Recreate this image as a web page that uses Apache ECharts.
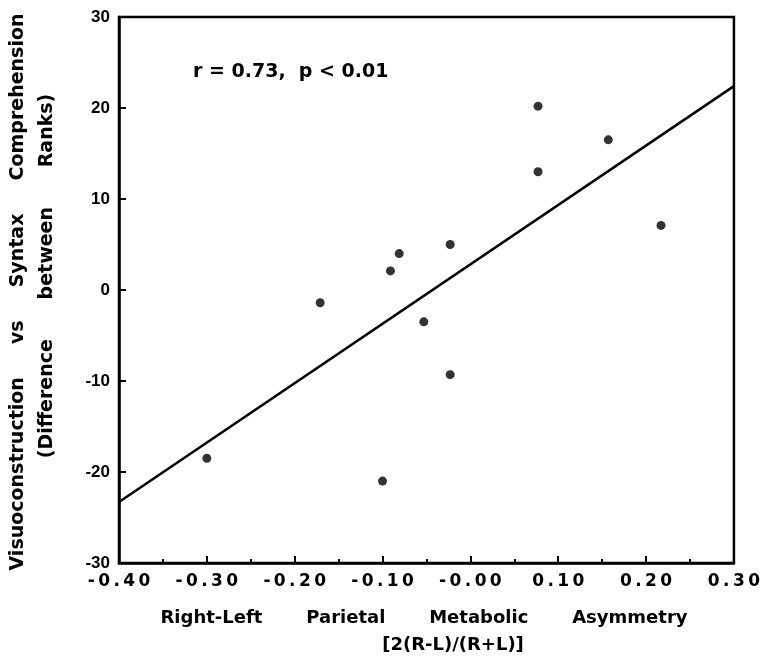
<!DOCTYPE html>
<html>
<head>
<meta charset="utf-8">
<script src="https://cdn.jsdelivr.net/npm/echarts@6/dist/echarts.min.js"></script>
<style>
html,body{margin:0;padding:0;background:#fff;}
#c{width:763px;height:663px;}
</style>
</head>
<body>
<div id="c"></div>
<script>
const asymmetry = [0.077, 0.157, 0.077, 0.217, -0.023, -0.081, -0.091, -0.171, -0.053, -0.023, -0.300, -0.100];
const rankDiff = [20.2, 16.5, 13.0, 7.1, 5.0, 4.0, 2.1, -1.4, -3.5, -9.3, -18.5, -21.0];
const fitX = [-0.40, 0.30];
const fitY = [-23.3, 22.4];
const xTickLabels = ["-0.40", "-0.30", "-0.20", "-0.10", "-0.00", "0.10", "0.20", "0.30"];
const yTickLabels = ["-30", "-20", "-10", "0", "10", "20", "30"];
const annotation = "r = 0.73,  p < 0.01";
const xTitle1 = "Right-Left       Parietal       Metabolic       Asymmetry";
const xTitle2 = "[2(R-L)/(R+L)]";
const yTitle1 = "Visuoconstruction     vs     Syntax     Comprehension";
const yTitle2 = "(Difference      between      Ranks)";

const WIDE = '"DejaVu Sans", sans-serif';
const NARROW = '"Liberation Sans", Arial, sans-serif';
const chart = echarts.init(document.getElementById('c'), null, {renderer: 'canvas'});
const pts = asymmetry.map((x, i) => [x, rankDiff[i]]);
const fit = fitX.map((x, i) => [x, fitY[i]]);

chart.setOption({
  backgroundColor: '#fff',
  animation: false,
  grid: {left: 119, right: 25, top: 17, bottom: 100, show: true, borderColor: '#000', borderWidth: 2.5, backgroundColor: 'transparent'},
  xAxis: {
    type: 'value', min: -0.4, max: 0.3, interval: 0.1,
    axisLine: {show: true, onZero: false, lineStyle: {color: '#000', width: 2.5}},
    axisTick: {show: true, inside: true, length: 7, lineStyle: {color: '#000', width: 2}},
    minorTick: {show: true, splitNumber: 2, length: 4, lineStyle: {color: '#000', width: 2}},
    splitLine: {show: false},
    axisLabel: {
      margin: 10, color: '#000', fontFamily: WIDE, fontWeight: 'bold', fontSize: 17,
      formatter: function (v) {
        const i = Math.round((v + 0.4) / 0.1);
        const s = xTickLabels[i] || '';
        return s.split('').join('\u2009');
      }
    }
  },
  yAxis: {
    type: 'value', min: -30, max: 30, interval: 10,
    axisLine: {show: true, onZero: false, lineStyle: {color: '#000', width: 2.5}},
    axisTick: {show: true, inside: true, length: 7, lineStyle: {color: '#000', width: 2}},
    splitLine: {show: false},
    axisLabel: {
      margin: 9, color: '#000', fontFamily: NARROW, fontWeight: 'bold', fontSize: 17,
      formatter: function (v) {
        const i = Math.round((v + 30) / 10);
        return yTickLabels[i] || '';
      }
    }
  },
  series: [
    {
      type: 'line', data: fit, symbol: 'none', silent: true,
      lineStyle: {color: '#000', width: 2.5}
    },
    {
      type: 'scatter', data: pts, symbol: 'circle', symbolSize: 9,
      itemStyle: {color: '#000'}
    }
  ],
  graphic: [
    {type: 'text', x: 193, y: 72, style: {text: annotation, fill: '#000', font: 'bold 19px ' + WIDE, align: 'left', verticalAlign: 'middle'}},
    {type: 'text', x: 424, y: 618, style: {text: xTitle1, fill: '#000', font: 'bold 18px ' + WIDE, align: 'center', verticalAlign: 'middle'}},
    {type: 'text', x: 453, y: 645, style: {text: xTitle2, fill: '#000', font: 'bold 18px ' + WIDE, align: 'center', verticalAlign: 'middle'}},
    {type: 'text', x: 18, y: 292, rotation: Math.PI / 2, style: {text: yTitle1, fill: '#000', font: 'bold 19px ' + WIDE, align: 'center', verticalAlign: 'middle'}},
    {type: 'text', x: 47, y: 276, rotation: Math.PI / 2, style: {text: yTitle2, fill: '#000', font: 'bold 19px ' + WIDE, align: 'center', verticalAlign: 'middle'}}
  ]
});
</script>
</body>
</html>
